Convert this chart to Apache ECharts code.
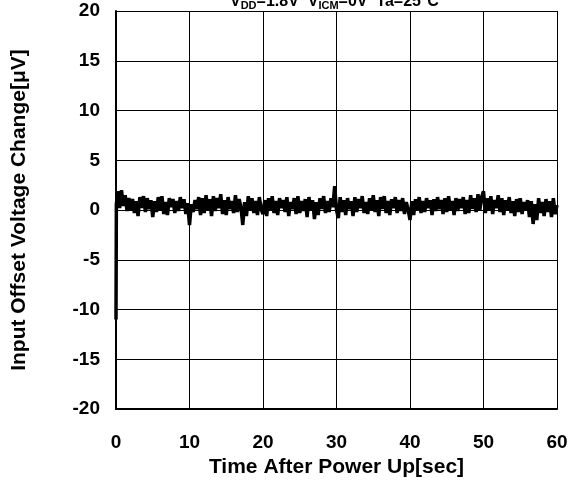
<!DOCTYPE html>
<html>
<head>
<meta charset="utf-8">
<script src="https://cdn.jsdelivr.net/npm/echarts@6/dist/echarts.min.js"></script>
<style>
html,body{margin:0;padding:0;background:#fff;}
#chart{width:574px;height:483px;}
</style>
</head>
<body>
<div id="chart"></div>
<script>
const titleParts = ['V', 'DD', '=1.8V  V', 'ICM', '=0V  Ta=25°C'];
const xTicks = [0, 10, 20, 30, 40, 50, 60];
const yTicks = [-20, -15, -10, -5, 0, 5, 10, 15, 20];
const xAxisName = 'Time After Power Up[sec]';
const yAxisName = 'Input Offset Voltage Change[μV]';

const timeSec = [
  0, 0.05, 0.25, 0.5, 0.75,
  1, 1.25, 1.5, 1.75, 2, 2.25, 2.5, 2.75, 3, 3.25, 3.5, 3.75, 4, 4.25, 4.5, 4.75,
  5, 5.25, 5.5, 5.75, 6, 6.25, 6.5, 6.75, 7, 7.25, 7.5, 7.75, 8, 8.25, 8.5, 8.75,
  9, 9.25, 9.5, 9.75, 10, 10.25, 10.5, 10.75, 11, 11.25, 11.5, 11.75, 12, 12.25, 12.5, 12.75,
  13, 13.25, 13.5, 13.75, 14, 14.25, 14.5, 14.75, 15, 15.25, 15.5, 15.75, 16, 16.25, 16.5, 16.75,
  17, 17.25, 17.5, 17.75, 18, 18.25, 18.5, 18.75, 19, 19.25, 19.5, 19.75, 20, 20.25, 20.5, 20.75,
  21, 21.25, 21.5, 21.75, 22, 22.25, 22.5, 22.75, 23, 23.25, 23.5, 23.75, 24, 24.25, 24.5, 24.75,
  25, 25.25, 25.5, 25.75, 26, 26.25, 26.5, 26.75, 27, 27.25, 27.5, 27.75, 28, 28.25, 28.5, 28.75,
  29, 29.25, 29.5, 29.75, 30, 30.25, 30.5, 30.75, 31, 31.25, 31.5, 31.75, 32, 32.25, 32.5, 32.75,
  33, 33.25, 33.5, 33.75, 34, 34.25, 34.5, 34.75, 35, 35.25, 35.5, 35.75, 36, 36.25, 36.5, 36.75,
  37, 37.25, 37.5, 37.75, 38, 38.25, 38.5, 38.75, 39, 39.25, 39.5, 39.75, 40, 40.25, 40.5, 40.75,
  41, 41.25, 41.5, 41.75, 42, 42.25, 42.5, 42.75, 43, 43.25, 43.5, 43.75, 44, 44.25, 44.5, 44.75,
  45, 45.25, 45.5, 45.75, 46, 46.25, 46.5, 46.75, 47, 47.25, 47.5, 47.75, 48, 48.25, 48.5, 48.75,
  49, 49.25, 49.5, 49.75, 50, 50.25, 50.5, 50.75, 51, 51.25, 51.5, 51.75, 52, 52.25, 52.5, 52.75,
  53, 53.25, 53.5, 53.75, 54, 54.25, 54.5, 54.75, 55, 55.25, 55.5, 55.75, 56, 56.25, 56.5, 56.75,
  57, 57.25, 57.5, 57.75, 58, 58.25, 58.5, 58.75, 59, 59.25, 59.5, 59.75, 60
];
const offsetUV = [
  -11.0, 0.6, 1.9, 0.2, 2.0,
  0.4, 1.5, -0.1, 1.2, 0.0, 1.1, -0.3, 0.9, -0.6, 1.3, 0.2, 1.4, -0.2, 1.2, 0.1, 1.0,
  -0.7, 0.9, -0.2, 1.3, 0.0, 1.4, -0.4, 0.8, -0.5, 1.2, 0.3, 1.1, -0.3, 0.9, -0.1, 1.3,
  0.2, 1.1, -0.4, 0.7, -1.5, 0.6, -0.2, 1.0, 0.1, 1.3, -0.5, 1.2, -0.3, 1.5, 0.0, 1.1,
  -0.6, 1.4, -0.1, 1.2, 0.2, 1.6, -0.4, 1.0, -0.5, 1.3, 0.1, 0.9, -0.3, 1.5, -0.2, 1.1,
  0.3, -1.5, 0.8, -0.6, 1.4, 0.0, 1.2, -0.3, 0.9, -0.5, 1.3, 0.1, -0.4, 1.0, -0.6, 1.2,
  0.0, 1.4, -0.3, 0.9, -0.5, 1.2, 0.2, 1.0, -0.2, 1.3, -0.6, 0.8, 0.1, 1.2, -0.4, 1.4,
  -0.3, 0.9, -0.1, 1.1, -0.7, 1.3, 0.0, 1.0, -0.9, 0.8, -0.5, 1.2, 0.1, 1.4, -0.3, 0.9,
  -0.2, 1.2, 0.3, 2.4, 0.0, -0.8, 1.3, -0.2, 1.0, -0.5, 1.2, 0.1, 0.9, -0.6, 1.3, -0.2,
  1.1, 0.2, 1.4, -0.3, 0.8, -0.4, 1.2, 0.0, 1.5, -0.2, 1.0, -0.6, 1.3, 0.1, 1.4, -0.3,
  0.9, -0.5, 1.1, 0.2, 1.3, -0.3, 1.0, -0.1, 1.2, -0.4, 0.8, 0.0, -1.0, 0.9, -0.5, 1.1,
  0.0, 1.3, -0.3, 0.9, -0.2, 1.2, 0.2, 1.0, -0.5, 1.1, -0.1, 1.3, 0.1, 1.0, -0.4, 1.2,
  -0.2, 1.4, 0.0, 0.9, -0.5, 1.2, -0.1, 1.1, 0.2, 1.3, -0.4, 1.0, -0.3, 1.5, 0.1, 1.2,
  -0.2, 1.6, 0.0, 1.3, 1.9, -0.3, 1.2, 0.0, 1.4, -0.4, 1.0, 0.2, 1.5, -0.2, 1.2, -0.5,
  1.0, 0.0, 1.3, -0.3, 0.9, -0.6, 1.1, -0.2, 1.2, -0.4, 0.8, 0.0, 1.0, -0.7, 0.9, -1.4,
  0.6, -1.0, 1.2, -0.3, 0.8, -0.6, 1.1, -0.2, 0.9, -0.7, 1.2, -0.4, 0.5
];

const chart = echarts.init(document.getElementById('chart'));
const seriesData = timeSec.map((t, i) => [t, offsetUV[i]]);
const font = 'Arial, "Liberation Sans", sans-serif';

chart.setOption({
  animation: false,
  backgroundColor: '#ffffff',
  title: {
    text: '{n|' + titleParts[0] + '}{s|' + titleParts[1] + '}{n|' + titleParts[2] + '}{s|' + titleParts[3] + '}{n|' + titleParts[4] + '}',
    left: 225,
    top: -13,
    textStyle: {
      rich: {
        n: { fontFamily: font, fontWeight: 'bold', fontSize: 16, color: '#000' },
        s: { fontFamily: font, fontWeight: 'bold', fontSize: 11, color: '#000', verticalAlign: 'bottom', padding: [8, 0, 0, 0] }
      }
    }
  },
  grid: { left: 116, right: 17, top: 11, bottom: 64, containLabel: false },
  xAxis: {
    type: 'value',
    min: xTicks[0],
    max: xTicks[xTicks.length - 1],
    interval: 10,
    name: xAxisName,
    nameLocation: 'middle',
    nameGap: 40,
    nameTextStyle: { fontFamily: font, fontWeight: 'bold', fontSize: 21, color: '#000' },
    axisLine: { show: true, onZero: false, lineStyle: { color: '#000', width: 2 } },
    axisTick: { show: false },
    axisLabel: { margin: 24, fontFamily: font, fontWeight: 'bold', fontSize: 19, color: '#000' },
    splitLine: { show: true, lineStyle: { color: '#000', width: 1 } }
  },
  yAxis: {
    type: 'value',
    min: yTicks[0],
    max: yTicks[yTicks.length - 1],
    interval: 5,
    name: yAxisName,
    nameLocation: 'middle',
    nameGap: 86,
    nameRotate: 90,
    nameTextStyle: { fontFamily: font, fontWeight: 'bold', fontSize: 21, color: '#000' },
    axisLine: { show: true, onZero: false, lineStyle: { color: '#000', width: 2 } },
    axisTick: { show: false },
    axisLabel: { margin: 16, fontFamily: font, fontWeight: 'bold', fontSize: 19, color: '#000' },
    splitLine: { show: true, lineStyle: { color: '#000', width: 1 } }
  },
  series: [{
    type: 'line',
    data: seriesData,
    showSymbol: false,
    symbol: 'none',
    smooth: false,
    lineStyle: { color: '#000', width: 3.5 },
    z: 3
  }]
});
</script>
</body>
</html>
